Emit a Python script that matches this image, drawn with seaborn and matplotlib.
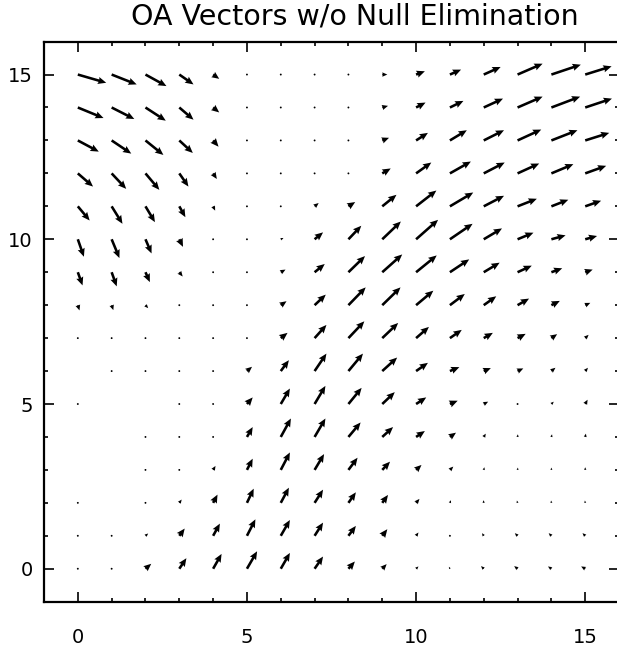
import matplotlib
matplotlib.use('Agg')
import matplotlib.pyplot as plt
import numpy as np
import seaborn as sns

grid_x = list(range(16))
grid_y = list(range(16))

# vector components, rows from y=15 (top) down to y=0
u_rows = [
    [0.84, 0.74, 0.62, 0.42, 0.18, 0.02, 0.02, 0.02, 0.05, 0.15, 0.26, 0.33, 0.50, 0.74, 0.87, 0.78],
    [0.76, 0.67, 0.60, 0.42, 0.18, 0.02, 0.02, 0.02, 0.05, 0.17, 0.28, 0.40, 0.57, 0.74, 0.85, 0.79],
    [0.62, 0.58, 0.53, 0.40, 0.16, 0.02, 0.02, 0.03, 0.06, 0.20, 0.35, 0.50, 0.60, 0.70, 0.77, 0.71],
    [0.45, 0.43, 0.41, 0.27, 0.11, 0.01, 0.02, 0.03, 0.06, 0.25, 0.45, 0.62, 0.62, 0.64, 0.65, 0.62],
    [0.35, 0.32, 0.28, 0.18, 0.06, 0.01, 0.03, 0.12, 0.20, 0.42, 0.60, 0.69, 0.60, 0.57, 0.50, 0.47],
    [0.18, 0.23, 0.18, 0.11, 0.02, 0.01, 0.08, 0.25, 0.38, 0.55, 0.65, 0.67, 0.54, 0.47, 0.42, 0.35],
    [0.14, 0.15, 0.13, 0.10, 0.02, 0.01, 0.14, 0.30, 0.49, 0.59, 0.61, 0.57, 0.47, 0.42, 0.32, 0.22],
    [0.05, 0.05, 0.08, 0.02, 0.02, 0.02, 0.17, 0.33, 0.51, 0.54, 0.51, 0.44, 0.37, 0.34, 0.25, 0.15],
    [0.01, 0.01, 0.01, 0.01, 0.01, 0.03, 0.20, 0.35, 0.47, 0.47, 0.38, 0.35, 0.27, 0.24, 0.17, 0.10],
    [0.00, 0.02, 0.01, 0.01, 0.01, 0.15, 0.24, 0.35, 0.43, 0.44, 0.35, 0.28, 0.21, 0.17, 0.12, 0.08],
    [0.01, 0.00, 0.00, 0.01, 0.01, 0.17, 0.27, 0.32, 0.39, 0.37, 0.30, 0.23, 0.13, 0.05, 0.07, 0.07],
    [0.00, 0.00, 0.01, 0.01, 0.02, 0.17, 0.30, 0.32, 0.36, 0.32, 0.26, 0.18, 0.06, 0.01, 0.02, 0.02],
    [0.00, 0.00, 0.01, 0.01, 0.07, 0.17, 0.27, 0.28, 0.27, 0.23, 0.16, 0.10, 0.02, 0.01, 0.00, 0.00],
    [0.01, 0.00, 0.01, 0.07, 0.13, 0.20, 0.24, 0.25, 0.22, 0.17, 0.10, 0.03, -0.01, -0.02, -0.01, -0.01],
    [0.01, 0.01, 0.08, 0.16, 0.20, 0.25, 0.27, 0.25, 0.22, 0.15, 0.07, 0.01, -0.05, -0.08, -0.08, -0.08],
    [0.01, 0.02, 0.17, 0.21, 0.25, 0.30, 0.27, 0.25, 0.19, 0.13, 0.07, -0.03, -0.08, -0.10, -0.10, -0.12],
]
v_rows = [
    [-0.25, -0.30, -0.35, -0.30, -0.13, -0.01, 0.00, 0.00, 0.00, 0.00, 0.10, 0.15, 0.23, 0.33, 0.30, 0.25],
    [-0.32, -0.35, -0.40, -0.37, -0.15, -0.01, 0.00, 0.00, 0.00, 0.05, 0.15, 0.20, 0.27, 0.33, 0.33, 0.27],
    [-0.34, -0.40, -0.44, -0.38, -0.19, -0.01, 0.00, 0.00, 0.00, 0.08, 0.23, 0.31, 0.31, 0.33, 0.31, 0.23],
    [-0.40, -0.47, -0.50, -0.40, -0.17, -0.02, 0.00, 0.01, 0.01, 0.15, 0.33, 0.36, 0.33, 0.30, 0.28, 0.23],
    [-0.43, -0.53, -0.48, -0.33, -0.13, -0.01, 0.01, 0.10, 0.13, 0.35, 0.48, 0.42, 0.32, 0.23, 0.20, 0.17],
    [-0.53, -0.57, -0.43, -0.23, -0.02, 0.00, 0.04, 0.21, 0.41, 0.54, 0.59, 0.47, 0.33, 0.20, 0.12, 0.10],
    [-0.40, -0.43, -0.30, -0.13, -0.01, 0.00, 0.08, 0.25, 0.49, 0.54, 0.51, 0.39, 0.29, 0.20, 0.12, 0.08],
    [-0.16, -0.15, -0.09, -0.01, 0.00, 0.01, 0.12, 0.32, 0.54, 0.54, 0.44, 0.34, 0.27, 0.20, 0.13, 0.07],
    [-0.02, 0.00, 0.00, 0.00, 0.00, 0.02, 0.16, 0.40, 0.51, 0.46, 0.34, 0.25, 0.16, 0.13, 0.12, 0.10],
    [0.00, 0.00, 0.00, 0.00, 0.00, 0.13, 0.33, 0.53, 0.53, 0.41, 0.25, 0.12, 0.09, 0.08, 0.10, 0.10],
    [0.00, 0.00, 0.00, 0.00, 0.01, 0.20, 0.47, 0.55, 0.49, 0.36, 0.20, 0.10, 0.07, 0.02, 0.07, 0.13],
    [0.00, 0.00, 0.00, 0.00, 0.01, 0.30, 0.56, 0.56, 0.44, 0.30, 0.18, 0.13, 0.10, 0.08, 0.08, 0.10],
    [0.00, 0.00, 0.00, 0.00, 0.12, 0.34, 0.53, 0.48, 0.37, 0.25, 0.15, 0.10, 0.08, 0.07, 0.07, 0.08],
    [0.00, 0.00, 0.00, 0.10, 0.25, 0.43, 0.46, 0.40, 0.32, 0.24, 0.12, 0.08, 0.08, 0.07, 0.07, 0.07],
    [0.00, 0.00, 0.07, 0.22, 0.37, 0.50, 0.48, 0.40, 0.30, 0.20, 0.10, 0.01, 0.08, 0.08, 0.08, 0.08],
    [0.00, 0.01, 0.15, 0.32, 0.45, 0.53, 0.48, 0.37, 0.22, 0.14, 0.07, 0.06, 0.08, 0.08, 0.07, 0.07],
]
major_ticks = [0, 5, 10, 15]
title = 'OA Vectors w/o Null Elimination'

sns.set_style('ticks')
plt.rcParams['font.family'] = ['DejaVu Sans']

fig = plt.figure(figsize=(6.17, 6.49), dpi=100)
ax = fig.add_axes([0.0713, 0.0729, 0.932, 0.863])

X, Y = np.meshgrid(grid_x, grid_y)
U = np.array(u_rows)[::-1]
V = np.array(v_rows)[::-1]
# no mark at all where the vector is exactly zero
empty = (U == 0) & (V == 0)
U = np.ma.masked_where(empty, U)
V = np.ma.masked_where(empty, V)
ax.quiver(X, Y, U, V, angles='xy', scale_units='xy', scale=1, pivot='tail',
          color='black', width=0.0045, headwidth=2.8, headlength=3.2,
          headaxislength=2.9, minlength=0.8)

ax.set_xlim(-1, 16)
ax.set_ylim(-1, 16)
ax.set_xticks(major_ticks)
ax.set_yticks(major_ticks)
ax.set_xticks(range(16), minor=True)
ax.set_yticks(range(16), minor=True)
ax.tick_params(which='both', direction='in', top=True, right=True,
               color='black', width=1.2, labelcolor='black')
ax.tick_params(which='major', length=7.5)
ax.tick_params(which='minor', length=3)
ax.tick_params(axis='x', which='major', pad=19, labelsize=14)
ax.tick_params(axis='y', which='major', pad=8, labelsize=14)
for s in ax.spines.values():
    s.set_color('black')
    s.set_linewidth(1.6)

ax.set_title(title, fontsize=20.5, x=0.541, pad=12, color='black')

fig.savefig('out.png', dpi=100)
